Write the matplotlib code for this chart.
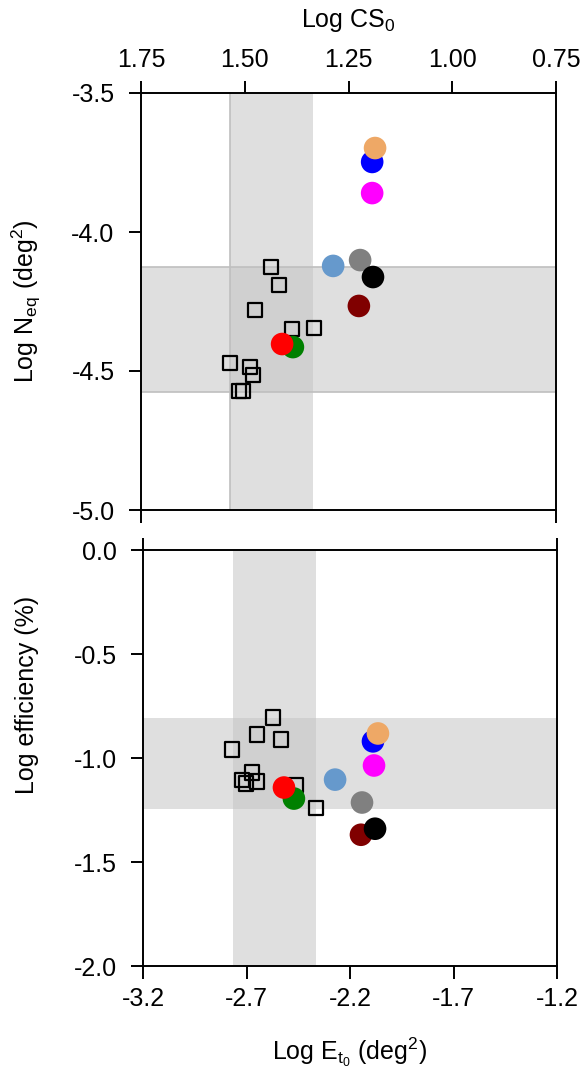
import matplotlib
matplotlib.use('Agg')
import matplotlib.pyplot as plt

plt.rcParams['font.family'] = ['Liberation Sans', 'DejaVu Sans']
plt.rcParams['mathtext.default'] = 'regular'
plt.rcParams['font.size'] = 18

# --- data ---
# open squares (top panel: Log CS0 vs Log Neq)
cs0_sq = [1.437, 1.417, 1.475, 1.386, 1.333, 1.536, 1.487, 1.480, 1.514, 1.504]
neq_sq = [-4.126, -4.191, -4.281, -4.349, -4.345, -4.471, -4.486, -4.514, -4.572, -4.572]
# filled circles, in drawing order
colors = ['#6699cc', '#808080', '#800000', '#000000', '#ff00ff', '#0000ff', '#eea866', '#008000', '#ff0000']
cs0_c = [1.287, 1.222, 1.225, 1.191, 1.193, 1.193, 1.186, 1.384, 1.410]
neq_c = [-4.122, -4.101, -4.266, -4.162, -3.860, -3.748, -3.698, -4.414, -4.403]

# bottom panel: Log Et0 vs Log efficiency
et0_sq = [-2.572, -2.649, -2.533, -2.770, -2.673, -2.722, -2.702, -2.649, -2.461, -2.364]
eff_sq = [-0.805, -0.887, -0.911, -0.959, -1.070, -1.104, -1.123, -1.113, -1.128, -1.239]
et0_c = [-2.272, -2.142, -2.147, -2.079, -2.084, -2.089, -2.065, -2.471, -2.519]
eff_c = [-1.104, -1.214, -1.369, -1.340, -1.036, -0.920, -0.882, -1.195, -1.142]

# shaded ranges
cs0_band = (1.336, 1.536)
neq_band = (-4.576, -4.126)
et0_band = (-2.765, -2.364)
eff_band = (-1.245, -0.81)

cs0_ticks = [1.75, 1.50, 1.25, 1.00, 0.75]
neq_ticks = [-3.5, -4.0, -4.5, -5.0]
et0_ticks = [-3.2, -2.7, -2.2, -1.7, -1.2]
eff_ticks = [0.0, -0.5, -1.0, -1.5, -2.0]

band_face = (0.765, 0.765, 0.765, 0.53)
lw = 1.4

fig = plt.figure(figsize=(5.84, 10.8), dpi=100)
ax1 = fig.add_axes([141/584, 1-510/1080, 415/584, 417/1080])
ax2 = fig.add_axes([143/584, 1-966/1080, 414/584, 416/1080])

# top panel
ax1.axvspan(*cs0_band, facecolor=band_face, lw=0, zorder=1)
ax1.axhspan(*neq_band, facecolor=band_face, lw=0, zorder=1)
# faint outline of the bands, as in the original
ax1.axvline(cs0_band[1], color='#bfbfbf', lw=1.2, zorder=1)
ax1.axhline(neq_band[0], color='#bfbfbf', lw=1.2, zorder=1)
ax1.axhline(neq_band[1], color='#bfbfbf', lw=1.2, zorder=1)
ax1.scatter(cs0_sq, neq_sq, marker='s', s=105, facecolors='none', edgecolors='black', linewidths=1.6, zorder=3)
ax1.scatter(cs0_c, neq_c, s=265, c=colors, linewidths=0, zorder=4)
ax1.set_xlim(1.75, 0.75)
ax1.set_ylim(-5.0, -3.5)
ax1.xaxis.tick_top()
ax1.xaxis.set_label_position('top')
ax1.set_xticks(cs0_ticks)
ax1.set_xticklabels(['%.2f' % t for t in cs0_ticks])
ax1.set_yticks(neq_ticks)
ax1.set_yticklabels(['%.1f' % t for t in neq_ticks])
ax1.set_xlabel('Log CS$_0$')
ax1.set_ylabel('Log N$_{eq}$ (deg$^2$)')
ax1.xaxis.set_label_coords(0.5, 1.175)
ax1.xaxis.label.set_va('center')
ax1.yaxis.set_label_coords(-0.275, 0.5)
ax1.yaxis.label.set_va('center')
sec1 = ax1.secondary_xaxis('bottom')
sec1.set_xticks([1.75, 0.75])
sec1.set_xticklabels([])
sec1.spines['bottom'].set_visible(False)
sec1.tick_params(length=9, width=lw, direction='out')

# bottom panel
ax2.axvspan(*et0_band, facecolor=band_face, lw=0, zorder=1)
ax2.axhspan(*eff_band, facecolor=band_face, lw=0, zorder=1)
ax2.scatter(et0_sq, eff_sq, marker='s', s=105, facecolors='none', edgecolors='black', linewidths=1.6, zorder=3)
ax2.scatter(et0_c, eff_c, s=265, c=colors, linewidths=0, zorder=4)
ax2.set_xlim(-3.2, -1.2)
ax2.set_ylim(-2.0, 0.0)
ax2.set_xticks(et0_ticks)
ax2.set_xticklabels(['%.1f' % t for t in et0_ticks])
ax2.set_yticks(eff_ticks)
ax2.set_yticklabels(['%.1f' % t for t in eff_ticks])
ax2.set_xlabel('Log E$_{t_0}$ (deg$^2$)')
ax2.set_ylabel('Log efficiency (%)')
ax2.xaxis.set_label_coords(0.5, -0.207)
ax2.xaxis.label.set_va('center')
ax2.yaxis.set_label_coords(-0.280, 0.651)
ax2.yaxis.label.set_va('center')
sec2 = ax2.secondary_xaxis('top')
sec2.set_xticks([-3.2, -1.2])
sec2.set_xticklabels([])
sec2.spines['top'].set_visible(False)
sec2.tick_params(length=9, width=lw, direction='out')

for ax in (ax1, ax2):
    for sp in ax.spines.values():
        sp.set_linewidth(lw)
    ax.tick_params(axis='x', length=9, width=lw, pad=6, labelsize=18)
    ax.tick_params(axis='y', length=9, width=lw, pad=10, labelsize=18)

fig.savefig('out.png', dpi=100)
